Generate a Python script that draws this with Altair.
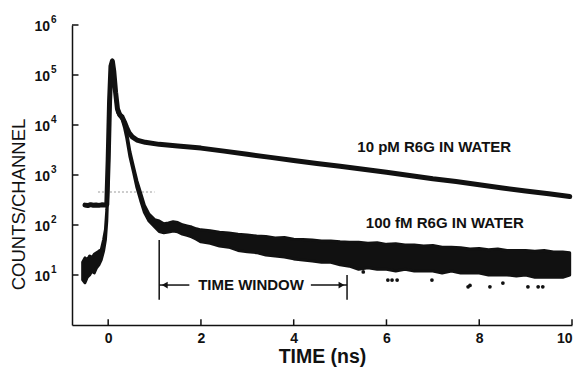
import altair as alt
import pandas as pd

FONT = "Liberation Sans"
INK = "#111111"

# ---- 10 pM R6G in water (upper trace) ----
t_10pm = [-0.50, -0.44, -0.38, -0.32, -0.26, -0.20, -0.14, -0.08, -0.03, 0.00, 0.03, 0.06,
          0.09, 0.12, 0.16, 0.20, 0.25, 0.30, 0.35, 0.40, 0.45, 0.52, 0.62, 0.80, 1.10,
          1.50, 2.00, 2.50, 3.00, 3.50, 4.00, 4.50, 5.00, 5.50, 6.00, 6.50, 7.00, 7.50,
          8.00, 8.50, 9.00, 9.50, 9.95]
c_10pm = [250, 245, 255, 248, 252, 247, 253, 250, 255, 2000, 30000, 150000,
          190000, 120000, 45000, 21000, 16000, 14500, 11500, 8800, 7000, 5800, 5000, 4500, 4100,
          3800, 3450, 3000, 2600, 2250, 1950, 1700, 1500, 1300, 1130, 980, 840, 740,
          640, 550, 480, 420, 370]

# ---- 100 fM R6G in water (lower, noisy band: low / high envelope) ----
t_100fm = [-0.55, -0.50, -0.45, -0.40, -0.35, -0.30, -0.25, -0.20, -0.15, -0.10, -0.06, -0.03,
           0.00, 0.03, 0.06, 0.09, 0.12, 0.16, 0.20, 0.25, 0.30, 0.35, 0.40, 0.47, 0.55,
           0.62, 0.70, 0.78, 0.88,
           1.00, 1.10, 1.20, 1.30, 1.40, 1.50, 1.60, 1.70, 1.80, 1.90, 2.00, 2.20, 2.40,
           2.60, 2.80, 3.00, 3.20, 3.40, 3.60, 3.80, 4.00, 4.20, 4.40, 4.60, 4.80, 5.00,
           5.20, 5.40, 5.60, 5.80, 6.00, 6.20, 6.40, 6.60, 6.80, 7.00, 7.20, 7.40, 7.60,
           7.80, 8.00, 8.20, 8.40, 8.60, 8.80, 9.00, 9.20, 9.40, 9.60, 9.80, 9.95]
lo_100fm = [8, 7, 9, 10, 12, 11, 14, 16, 20, 30, 50, 120,
            800, 20000, 140000, 180000, 110000, 40000, 18000, 15000, 13000, 9000, 5500, 2300, 1100,
            560, 310, 180, 120,
            92, 74, 70, 72, 76, 73, 66, 62, 58, 52, 46, 43, 38,
            36, 31, 29, 28, 25, 24, 23, 21, 20, 19, 18, 18, 16,
            15, 13, 14, 13, 13, 12, 13, 12, 12, 12, 11, 12, 11,
            11, 11, 10, 10, 10, 9.5, 10, 9, 9, 9, 9, 10]
hi_100fm = [18, 22, 20, 24, 22, 26, 28, 30, 32, 50, 80, 200,
            1200, 30000, 160000, 200000, 130000, 50000, 22000, 17000, 15000, 11000, 7000, 2900, 1400,
            760, 440, 250, 165,
            128, 120, 106, 110, 116, 112, 101, 96, 91, 84, 80, 77, 72,
            69, 65, 63, 60, 59, 55, 56, 52, 51, 50, 48, 48, 46,
            45, 45, 43, 44, 41, 42, 40, 40, 38, 39, 36, 36, 35,
            33, 34, 32, 33, 31, 31, 31, 30, 31, 29, 29, 28]

# stray counts below the band
t_dots = [5.50, 6.03, 6.12, 6.23, 6.98, 7.76, 7.80, 8.23, 8.51, 9.05, 9.27, 9.37]
c_dots = [11.5, 7.9, 7.9, 7.9, 7.9, 5.8, 6.2, 5.8, 6.9, 5.8, 5.8, 5.8]

# faint dotted line left on the original plot
faint_x = [-0.22, 1.0]
faint_y = [457, 457]

# time-window annotation
win_left, win_right = 1.10, 5.15
win_left_top, win_right_top, win_bottom = 50, 10, 3.2
win_arrow_y = 6.3

x_ticks = [0, 2, 4, 6, 8, 10]
y_ticks = [10, 100, 1000, 10000, 100000, 1000000]
y_tick_base = ["10"] * 6
y_tick_exp = ["1", "2", "3", "4", "5", "6"]

labels_text = ["10 pM R6G IN WATER", "100 fM R6G IN WATER"]
labels_x = [7.03, 7.26]
labels_y = [3700, 112]

XMIN, XMAX = -0.78, 10
xs = alt.Scale(domain=[XMIN, XMAX], nice=False, zero=False)
ys = alt.Scale(type="log", domain=[1, 1000000], nice=False)

xaxis = alt.Axis(values=x_ticks, title="TIME (ns)", tickSize=0, grid=False,
                 labelFont=FONT, labelFontSize=14, labelFontWeight="bold", labelColor=INK,
                 labelPadding=6, domainColor=INK, domainWidth=1.5,
                 titleFont=FONT, titleFontSize=19.5, titleFontWeight="bold", titleColor=INK,
                 titlePadding=2)
yaxis = alt.Axis(values=y_ticks, labels=False, title="COUNTS/CHANNEL", tickSize=0, grid=False,
                 domainColor=INK, domainWidth=1.5,
                 titleFont=FONT, titleFontSize=18.5, titleFontWeight="normal", titleColor=INK,
                 titleX=-54, titleY=179, titleAngle=-90, titleAlign="center", titleBaseline="middle")

X = lambda f: alt.X(f, type="quantitative", scale=xs, axis=xaxis)
Y = lambda f: alt.Y(f, type="quantitative", scale=ys, axis=yaxis)

upper = alt.Chart(pd.DataFrame({"t": t_10pm, "c": c_10pm})).mark_line(
    color=INK, strokeWidth=5, strokeJoin="round", strokeCap="round"
).encode(x=X("t"), y=Y("c"))

band = alt.Chart(pd.DataFrame({"t": t_100fm, "lo": lo_100fm, "hi": hi_100fm})).mark_area(
    color=INK, stroke=INK, strokeWidth=3, strokeJoin="round"
).encode(x=X("t"), y=Y("lo"), y2="hi")

dots = alt.Chart(pd.DataFrame({"t": t_dots, "c": c_dots})).mark_circle(
    color=INK, size=14, opacity=1
).encode(x=X("t"), y=Y("c"))

faint = alt.Chart(pd.DataFrame({"x": faint_x, "y": faint_y})).mark_line(
    color="#9a9a9a", strokeWidth=1, strokeDash=[2, 2]
).encode(x=X("x"), y=Y("y"))

ytick_df = pd.DataFrame({"y": y_ticks, "x": [XMIN] * 6, "x2": [XMIN + 0.14] * 6,
                         "base": y_tick_base, "exp": y_tick_exp})
yticks = alt.Chart(ytick_df).mark_rule(color=INK, strokeWidth=1.5).encode(
    x=X("x"), x2="x2", y=Y("y"))
ylab_base = alt.Chart(ytick_df).mark_text(
    font=FONT, fontSize=14, fontWeight="bold", color=INK, align="right", baseline="middle",
    dx=-22, dy=2).encode(x=X("x"), y=Y("y"), text="base")
ylab_exp = alt.Chart(ytick_df).mark_text(
    font=FONT, fontSize=10, fontWeight="bold", color=INK, align="left", baseline="middle",
    dx=-21, dy=-5).encode(x=X("x"), y=Y("y"), text="exp")

xtick_df = pd.DataFrame({"x": x_ticks, "y": [1] * 6, "y2": [1.3] * 6})
xticks = alt.Chart(xtick_df).mark_rule(color=INK, strokeWidth=1.5).encode(
    x=X("x"), y=Y("y"), y2="y2")

win_v = alt.Chart(pd.DataFrame({"x": [win_left, win_right], "y": [win_bottom, win_bottom],
                                "y2": [win_left_top, win_right_top]})).mark_rule(
    color=INK, strokeWidth=1.5).encode(x=X("x"), y=Y("y"), y2="y2")
win_h = alt.Chart(pd.DataFrame({"x": [win_left, 4.37], "x2": [1.75, win_right],
                                "y": [win_arrow_y, win_arrow_y]})).mark_rule(
    color=INK, strokeWidth=1.5).encode(x=X("x"), x2="x2", y=Y("y"))
arr_l = alt.Chart(pd.DataFrame({"x": [win_left + 0.12], "y": [win_arrow_y]})).mark_point(
    shape="triangle-left", filled=True, color=INK, size=45, opacity=1).encode(x=X("x"), y=Y("y"))
arr_r = alt.Chart(pd.DataFrame({"x": [win_right - 0.12], "y": [win_arrow_y]})).mark_point(
    shape="triangle-right", filled=True, color=INK, size=45, opacity=1).encode(x=X("x"), y=Y("y"))
win_t = alt.Chart(pd.DataFrame({"x": [3.08], "y": [win_arrow_y], "s": ["TIME WINDOW"]})).mark_text(
    font=FONT, fontSize=15, fontWeight="bold", color=INK, baseline="middle", align="center").encode(
    x=X("x"), y=Y("y"), text="s")

labels = alt.Chart(pd.DataFrame({"x": labels_x, "y": labels_y, "s": labels_text})).mark_text(
    font=FONT, fontSize=15, fontWeight="bold", color=INK, baseline="middle", align="center").encode(
    x=X("x"), y=Y("y"), text="s")

chart = alt.layer(
    faint, band, upper, dots, yticks, ylab_base, ylab_exp, xticks,
    win_v, win_h, arr_l, arr_r, win_t, labels
).properties(
    width=500, height=300,
    autosize=alt.AutoSizeParams(type="none"),
    padding={"left": 72, "top": 25, "right": 9, "bottom": 44},
    background="white",
).configure_view(stroke=None)

chart.save("out.html", embed_options={"renderer": "svg", "actions": False})
